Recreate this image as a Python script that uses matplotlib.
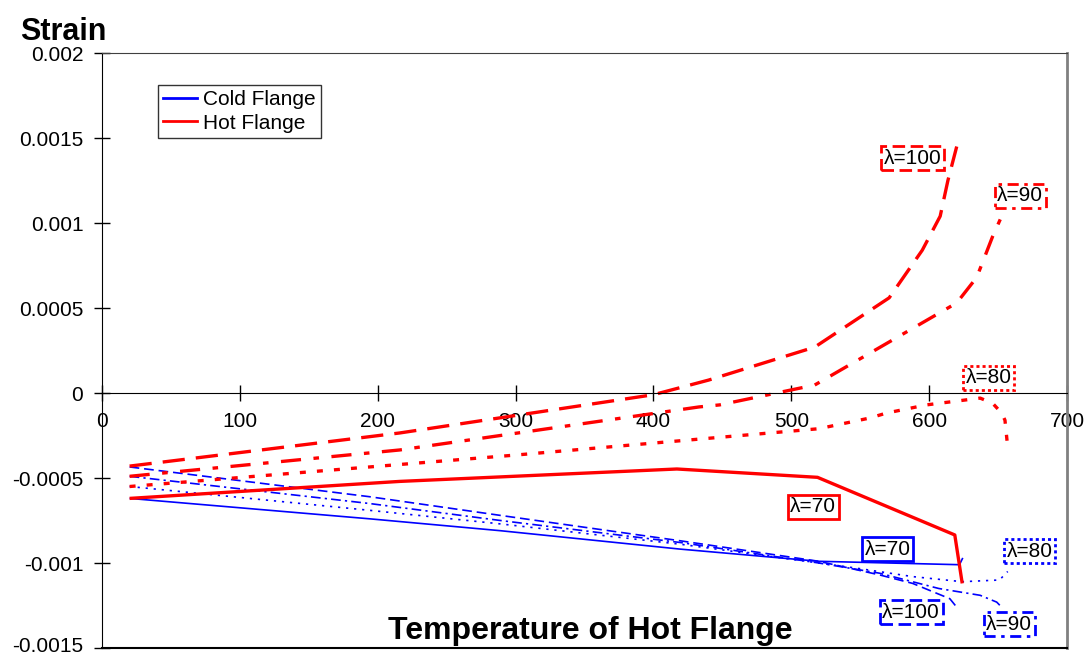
import numpy as np
import matplotlib
matplotlib.use("Agg")
import matplotlib.pyplot as plt
import matplotlib.transforms as mtransforms
from matplotlib.lines import Line2D

plt.rcParams['font.family'] = ['Liberation Sans', 'DejaVu Sans']
plt.rcParams['lines.scale_dashes'] = False

# hot flange strain vs hot flange temperature, one curve per slenderness
hot70_t = [20, 216, 417, 519, 618.6, 624]
hot70_e = [-0.00062, -0.00052, -0.000447, -0.000496, -0.000835, -0.00112]
hot80_t = [20, 300, 520, 557, 569, 598, 637, 646, 652.6, 655, 657]
hot80_e = [-0.00055, -0.000365, -0.00021, -0.000147, -0.000118, -0.00007,
           -0.00003, -0.00006, -0.000118, -0.00016, -0.00032]
hot90_t = [20, 216, 433, 448, 517, 620, 634.5, 646, 652.6, 655]
hot90_e = [-0.00049, -0.000335, -0.000082, -0.00007, 0.000047, 0.00053,
           0.00068, 0.00092, 0.00104, 0.00110]
hot100_t = [20, 216, 400, 440, 517, 571, 595, 608, 613.6, 620]
hot100_e = [-0.00043, -0.000235, -0.00001, 0.000076, 0.00027, 0.00056,
            0.00084, 0.00104, 0.00125, 0.00145]

# cold flange strain
cold70_t = [20, 194, 289, 419, 520, 622, 624.4]
cold70_e = [-0.00062, -0.00074, -0.00081, -0.000918, -0.00099, -0.00101, -0.00097]
cold80_t = [20, 194, 289, 420, 520, 547, 588, 624, 651, 657]
cold80_e = [-0.00055, -0.00069, -0.00077, -0.00089, -0.00100, -0.00103,
            -0.00108, -0.00111, -0.00110, -0.00105]
cold90_t = [20, 194, 289, 420, 520, 564, 607, 637, 649, 652.6]
cold90_e = [-0.00049, -0.00065, -0.00075, -0.00088, -0.00100, -0.00106,
            -0.00115, -0.00119, -0.00123, -0.00126]
cold100_t = [20, 194, 289, 420, 520, 564, 588, 615, 620]
cold100_e = [-0.000435, -0.00061, -0.00072, -0.00087, -0.00099, -0.00107,
             -0.00112, -0.00121, -0.00126]

lam_labels = ['\u03bb=70', '\u03bb=80', '\u03bb=90', '\u03bb=100']
hot_label_xy = [(516, -0.00067), (643, 0.00009), (666, 0.00116), (588, 0.00138)]
cold_label_xy = [(570, -0.00092), (673, -0.00093), (658, -0.00136), (587, -0.00129)]

BLUE = '#0000ff'
RED = '#ff0000'

red_styles = ['-', (0, (4.3, 8)), (0, (14.5, 9, 4, 9)), (0, (16, 8))]
blue_styles = ['-', (0, (1.6, 4.2)), (0, (7, 3, 1.6, 3)), (0, (7, 3.5))]
box_styles = ['-', (0, (2.2, 2.2)), (0, (8, 4, 2.5, 4)), (0, (9, 4))]

fig = plt.figure(figsize=(10.89, 6.57), dpi=100)
ax = fig.add_axes([0.0937, 0.0137, 0.9798 - 0.0937, 0.9193 - 0.0137])

hot = [(hot70_t, hot70_e), (hot80_t, hot80_e), (hot90_t, hot90_e), (hot100_t, hot100_e)]
cold = [(cold70_t, cold70_e), (cold80_t, cold80_e), (cold90_t, cold90_e), (cold100_t, cold100_e)]

for (t, e), ls in zip(cold, blue_styles):
    ax.plot(t, e, color=BLUE, lw=1.2, ls=ls, solid_capstyle='butt', dash_capstyle='butt')
for (t, e), ls in zip(hot, red_styles):
    ax.plot(t, e, color=RED, lw=2.4, ls=ls, solid_capstyle='butt', dash_capstyle='butt')

for lab, (x, y), ls in zip(lam_labels, hot_label_xy, box_styles):
    ax.text(x, y, lab, fontsize=15, ha='center', va='center', zorder=5,
            bbox=dict(boxstyle='square,pad=0.12', fc='white', ec=RED, lw=2, ls=ls))
for lab, (x, y), ls in zip(lam_labels, cold_label_xy, box_styles):
    ax.text(x, y, lab, fontsize=15, ha='center', va='center', zorder=5,
            bbox=dict(boxstyle='square,pad=0.12', fc='white', ec=BLUE, lw=2, ls=ls))

ax.set_xlim(0, 700)
ax.set_ylim(-0.0015, 0.002)
ax.set_xticks(np.arange(0, 701, 100))
ax.set_yticks(np.arange(-0.0015, 0.00201, 0.0005))
ax.set_yticklabels(['-0.0015', '-0.001', '-0.0005', '0', '0.0005', '0.001', '0.0015', '0.002'])

# x axis sits on strain = 0, frame kept around the plot area
ax.spines['bottom'].set_position(('data', 0))
ax.spines['bottom'].set_color('black')
ax.spines['left'].set_color('black')
ax.spines['top'].set_color('#404040')
ax.spines['right'].set_color('#808080')
ax.spines['right'].set_linewidth(2)
ax.plot([0, 700], [-0.0015, -0.0015], color='black', lw=1.5, clip_on=False, zorder=6)

ax.tick_params(axis='both', direction='inout', length=11, width=1, labelsize=15)
ax.tick_params(axis='x', pad=8)
ax.tick_params(axis='y', pad=8)

# nudge the lowest strain label up so it stays inside the figure
lowest = ax.get_yticklabels()[0]
lowest.set_transform(lowest.get_transform() +
                     mtransforms.ScaledTranslation(0, 3 / 100, fig.dpi_scale_trans))

handles = [Line2D([], [], color=BLUE, lw=2), Line2D([], [], color=RED, lw=2)]
leg = ax.legend(handles, ['Cold Flange', 'Hot Flange'], loc='upper left',
                bbox_to_anchor=(0.058, 0.946), fontsize=15, frameon=True,
                fancybox=False, borderpad=0.25, handlelength=1.6,
                handletextpad=0.3, labelspacing=0.2, borderaxespad=0)
leg.get_frame().set_edgecolor('black')
leg.get_frame().set_linewidth(1)

fig.text(20 / 1089, 1 - 40 / 657, 'Strain', fontsize=22, fontweight='bold',
         ha='left', va='baseline')
fig.text(590 / 1089, 1 - 639 / 657, 'Temperature of Hot Flange', fontsize=23,
         fontweight='bold', ha='center', va='baseline')

fig.savefig('out.png', dpi=100)
